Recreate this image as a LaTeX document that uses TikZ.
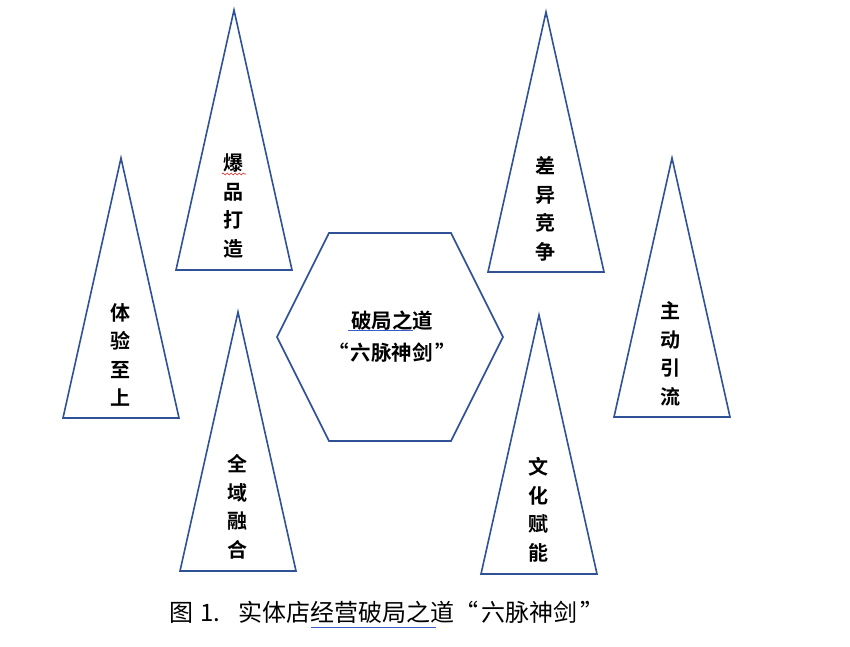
\documentclass[tikz,border=0pt]{standalone}
\usepackage{fontspec}
\newfontfamily\cjk{Noto Sans CJK SC}
\newfontfamily\cjkb{Noto Sans CJK SC Bold}
\usetikzlibrary{decorations.pathmorphing}
\definecolor{outl}{RGB}{47,82,150}
\definecolor{wavy}{RGB}{220,40,40}
\definecolor{uline}{RGB}{60,90,200}
\tikzset{
  tri/.style={draw=outl, line width=1.6pt, line join=miter, fill=white},
  vlabel/.style={font=\cjkb\fontsize{20}{28.5}\selectfont, align=center, inner sep=0pt},
  hexlabel/.style={font=\cjkb\fontsize{20.5}{32}\selectfont, align=center, inner sep=0pt},
  caplabel/.style={font=\cjk\fontsize{24}{27}\selectfont, inner sep=0pt, anchor=west},
}
\begin{document}
\begin{tikzpicture}[x=1pt,y=-1pt]
\useasboundingbox (0,0) rectangle (850,646);
% triangles
\draw[tri] (234,10) -- (292,270) -- (176,270) -- cycle;
\draw[tri] (121,158) -- (179,418) -- (63,418) -- cycle;
\draw[tri] (238,312) -- (296,571) -- (180,571) -- cycle;
\draw[tri] (546,12) -- (604,272) -- (488,272) -- cycle;
\draw[tri] (672,158) -- (730,417) -- (614,417) -- cycle;
\draw[tri] (539,315) -- (597,574) -- (481,574) -- cycle;
% hexagon
\draw[tri] (277,337) -- (329,233) -- (451,233) -- (503,337) -- (451,441) -- (329,441) -- cycle;
% labels
\node[vlabel] (t1) at (233,206) {爆\\品\\打\\造};
\node[vlabel] (t2) at (120,355) {体\\验\\至\\上};
\node[vlabel] (t3) at (237,507) {全\\域\\融\\合};
\node[vlabel] (t4) at (545,209) {差\\异\\竞\\争};
\node[vlabel] (t5) at (670,354) {主\\动\\引\\流};
\node[vlabel] (t6) at (538,510) {文\\化\\赋\\能};
\node[hexlabel] (hx) at (392,337) {破局之道\\“\hspace{0.12em}六脉神剑\hspace{0.12em}”};
\node[caplabel] (cap) at (169,612) {图\hspace{0.3em}1.\hspace{0.75em}实体店经营破局之道“\hspace{0.15em}六脉神剑\hspace{0.1em}”};
% proofing marks
\draw[wavy, line width=0.6pt, decorate, decoration={snake, amplitude=1pt, segment length=4pt}] (222,174) -- (246,174);
\draw[uline, line width=0.8pt] (348,330.5) -- (413,330.5);
\draw[uline, line width=0.8pt] (311,627) -- (436,627);
\end{tikzpicture}
\end{document}
